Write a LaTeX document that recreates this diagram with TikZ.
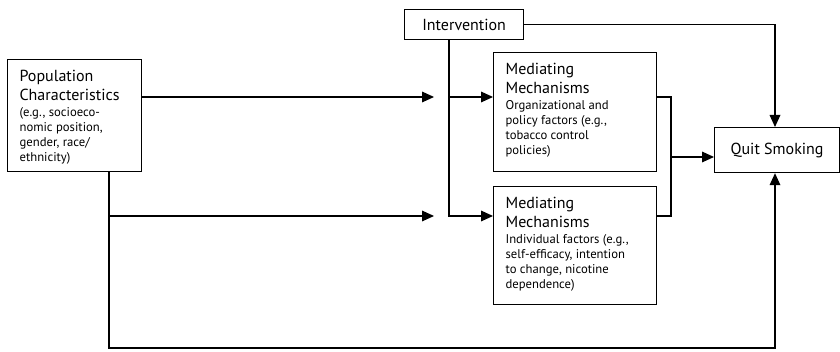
\documentclass[tikz,border=0pt]{standalone}
\usepackage{fontspec}
\setmainfont{PT Sans}
\usetikzlibrary{arrows.meta}

\begin{document}
\begin{tikzpicture}[x=0.75pt,y=-0.75pt,
  box/.style={draw,line width=0.9pt,anchor=north west,inner xsep=9pt,inner ysep=8pt},
  titlebox/.style={draw,line width=0.9pt,anchor=north west,inner sep=0pt,font=\fontsize{12}{14.25}\selectfont},
  flow/.style={line width=0.9pt},
  flow arrow/.style={flow,-{Triangle[length=9pt,width=8pt]}}]
\useasboundingbox (0,0) rectangle (840,352);

\node[box] (pop) at (7,59) {\parbox[t][68pt][t]{82.5pt}{\raggedright
  \fontsize{12}{14.25}\selectfont Population\\Characteristics\par\vspace{0.75pt}
  \fontsize{9.5}{11.25}\selectfont (e.g., socioeco-\\nomic position,\\gender, race/\\ethnicity)}};
\node[titlebox,minimum width=89.25pt,minimum height=22.5pt] (interv) at (404,9) {Intervention};
\node[box] (med1) at (493,52) {\parbox[t][73.25pt][t]{104.25pt}{\raggedright
  \fontsize{12}{14.25}\selectfont Mediating\\Mechanisms\par\vspace{0.75pt}
  \fontsize{9.5}{11.25}\selectfont Organizational and\\policy factors (e.g.,\\tobacco control\\policies)}};
\node[box] (med2) at (493,186) {\parbox[t][72.5pt][t]{104.25pt}{\raggedright
  \fontsize{12}{14.25}\selectfont Mediating\\Mechanisms\par\vspace{0.75pt}
  \fontsize{9.5}{11.25}\selectfont Individual factors (e.g.,\\self-efficacy, intention\\to change, nicotine\\dependence)}};
\node[titlebox,minimum width=93.75pt,minimum height=33.75pt] (quit) at (714,127) {Quit Smoking};

\coordinate (popx) at (109,0);
\coordinate (stopx) at (434,0);
\coordinate (intx) at (449,0);
\coordinate (joinx) at (671,0);
\coordinate (quitx) at (775,0);
\coordinate (row1) at (0,97);
\coordinate (row2) at (0,216);
\coordinate (merge) at (0,157);
\coordinate (floor) at (0,348);

% population
\draw[flow arrow] (pop.east |- row1) -- (stopx |- row1);
\draw[flow arrow] (popx |- pop.south) -- (popx |- floor) -- (quitx |- floor) -- (quit.south -| quitx);
\draw[flow arrow] (popx |- row2) -- (stopx |- row2);

% intervention
\draw[flow arrow] (interv.east) -- (quitx |- interv.east) -- (quit.north -| quitx);
\draw[flow arrow] (intx |- interv.south) -- (intx |- row2) -- (med2.west |- row2);
\draw[flow arrow] (intx |- row1) -- (med1.west |- row1);

% mediating mechanisms
\draw[flow] (med1.east |- row1) -- (joinx |- row1) -- (joinx |- row2) -- (med2.east |- row2);
\draw[flow arrow] (joinx |- merge) -- (quit.west |- merge);
\end{tikzpicture}
\end{document}
